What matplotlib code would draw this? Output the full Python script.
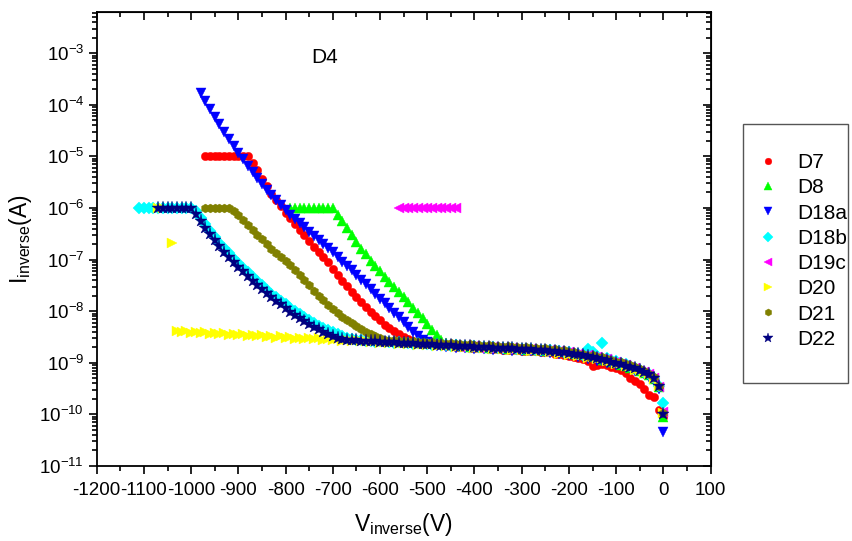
"""
Reverse I-V curves of the D4 diodes (log current vs reverse voltage).
"""

import numpy as np
import matplotlib
matplotlib.use("Agg")
import matplotlib.pyplot as plt
from matplotlib.ticker import MultipleLocator, LogLocator, NullFormatter
from matplotlib.patches import Rectangle

# Voltage sweeps (V), 10 V steps
v_d7 = np.arange(-970, 1, 10)
v_d8 = np.arange(-790, 1, 10)
v_d18a = np.arange(-980, 1, 10)
v_d18b = np.arange(-1110, 1, 10)
v_d19c = np.arange(-560, 1, 10)
v_d20 = np.concatenate([[-1070, -1060, -1040], np.arange(-1030, 1, 10)])
v_d21 = np.arange(-970, 1, 10)
v_d22 = np.arange(-1070, 1, 10)

# log10 of reverse current (A)
log_d7 = [
    -5.00, -5.00, -5.00, -5.00, -5.00, -5.00, -5.00, -5.00, -5.00, -5.00,
    -5.12, -5.27, -5.43, -5.58, -5.72, -5.84, -5.97, -6.09, -6.20, -6.31,
    -6.42, -6.53, -6.64, -6.75, -6.85, -6.95, -7.05, -7.18, -7.30, -7.41,
    -7.52, -7.62, -7.72, -7.82, -7.92, -8.01, -8.10, -8.18, -8.26, -8.33,
    -8.39, -8.45, -8.50, -8.54, -8.57, -8.60, -8.62, -8.64,
    -8.65, -8.66, -8.66, -8.68, -8.67, -8.69, -8.69, -8.70, -8.71, -8.71,
    -8.72, -8.72, -8.73, -8.74, -8.73, -8.75, -8.75, -8.76, -8.76, -8.77,
    -8.77, -8.78, -8.78, -8.79, -8.80, -8.80, -8.82, -8.83, -8.84, -8.86,
    -8.88, -8.90, -8.93, -8.97, -9.06, -9.05, -9.02, -9.04, -9.08, -9.10,
    -9.14, -9.20, -9.30, -9.36, -9.42, -9.50, -9.62, -9.66, -9.92, -10.05,
]
log_d8 = [
    -6.00, -6.00, -6.00, -6.00, -6.00, -6.00, -6.00, -6.00, -6.00, -6.00,
    -6.13, -6.26, -6.38, -6.52, -6.66, -6.79, -6.90, -7.02, -7.13, -7.22,
    -7.33, -7.44, -7.53, -7.63, -7.73, -7.83, -7.93, -8.03, -8.13, -8.24,
    -8.36, -8.47, -8.56, -8.61,
    -8.66, -8.64, -8.68, -8.66, -8.69, -8.68, -8.70, -8.69, -8.71, -8.70,
    -8.72, -8.70, -8.73, -8.72, -8.74, -8.72, -8.75, -8.74, -8.76, -8.75,
    -8.77, -8.75, -8.78, -8.77, -8.80, -8.79, -8.82, -8.81, -8.85, -8.84,
    -8.89, -8.89, -8.94, -8.94, -8.99, -9.00, -9.05, -9.06, -9.11, -9.12,
    -9.16, -9.19, -9.24, -9.31, -9.47, -10.05,
]
log_d18a = [
    -3.78, -3.93, -4.08, -4.23, -4.38, -4.52, -4.67, -4.80, -4.93, -5.06,
    -5.18, -5.30, -5.42, -5.54, -5.65, -5.75, -5.85, -5.95, -6.04, -6.13,
    -6.22, -6.29, -6.37, -6.46, -6.54, -6.62, -6.70, -6.78, -6.86, -6.95,
    -7.04, -7.12, -7.21, -7.30, -7.39, -7.48, -7.57, -7.66, -7.76, -7.85,
    -7.94, -8.03, -8.12, -8.20, -8.30, -8.40, -8.48, -8.55, -8.60,
    -8.66, -8.68, -8.67, -8.70, -8.68, -8.71, -8.70, -8.72, -8.71, -8.73,
    -8.72, -8.74, -8.73, -8.75, -8.73, -8.76, -8.74, -8.77, -8.75, -8.77,
    -8.76, -8.78, -8.77, -8.79, -8.79, -8.81, -8.81, -8.83, -8.83, -8.85,
    -8.85, -8.88, -8.88, -8.92, -8.92, -8.96, -8.96, -9.00, -9.00, -9.04,
    -9.05, -9.09, -9.11, -9.15, -9.18, -9.22, -9.27, -9.35, -9.50, -10.35,
]
log_d18b = [
    -6.00, -6.00, -6.00, -6.00, -6.00, -6.00, -6.00, -6.00, -6.00, -6.00,
    -6.00, -6.00,
    -6.06, -6.19, -6.32, -6.44, -6.56, -6.67, -6.78, -6.88, -6.98, -7.07,
    -7.16, -7.25, -7.34, -7.42, -7.50, -7.58, -7.66, -7.73, -7.80, -7.87,
    -7.94, -8.00, -8.06, -8.12, -8.18, -8.23, -8.28, -8.33, -8.37, -8.41,
    -8.45, -8.48, -8.51, -8.53,
    -8.55, -8.56, -8.58, -8.57, -8.59, -8.58, -8.60, -8.59, -8.61, -8.60,
    -8.62, -8.61, -8.63, -8.62, -8.64, -8.63, -8.65, -8.64, -8.66, -8.65,
    -8.67, -8.66, -8.68, -8.67, -8.69, -8.68, -8.70, -8.69, -8.71, -8.70,
    -8.71, -8.71, -8.72, -8.72, -8.73, -8.73, -8.74, -8.74, -8.75, -8.75,
    -8.76, -8.76, -8.77, -8.78, -8.79, -8.80, -8.82, -8.83, -8.84, -8.74,
    -8.80, -8.86, -8.62, -8.90, -8.95, -8.97, -9.00, -9.03, -9.06, -9.10,
    -9.13, -9.17, -9.22, -9.30, -9.45, -9.77,
]
log_d19c = [
    -6.00, -6.00, -6.00, -6.00, -6.00, -6.00, -6.00, -6.00, -6.00, -6.00,
    -6.00, -6.00, -6.00,
    -8.69, -8.67, -8.70, -8.68, -8.71, -8.69, -8.72, -8.70, -8.72, -8.71,
    -8.73, -8.72, -8.74, -8.73, -8.75, -8.74, -8.76, -8.75, -8.77, -8.76,
    -8.79, -8.78, -8.81, -8.80, -8.83, -8.82, -8.86, -8.85, -8.89, -8.88,
    -8.93, -8.93, -8.98, -8.98, -9.03, -9.04, -9.09, -9.10, -9.15, -9.17,
    -9.22, -9.30, -9.46, -9.95,
]
log_d20 = [
    -6.00, -6.00, -6.68,
    -8.38, -8.41, -8.39, -8.42, -8.40, -8.43, -8.41, -8.44, -8.42, -8.45,
    -8.43, -8.46, -8.44, -8.47, -8.45, -8.48, -8.46, -8.49, -8.47, -8.50,
    -8.48, -8.51, -8.49, -8.52, -8.50, -8.53, -8.51, -8.54, -8.52, -8.54,
    -8.52, -8.55, -8.53, -8.56, -8.54, -8.57, -8.55, -8.58, -8.56, -8.58,
    -8.57, -8.60, -8.58, -8.61, -8.59, -8.62, -8.60, -8.63, -8.61, -8.64,
    -8.62, -8.65, -8.63, -8.66, -8.64, -8.67, -8.65, -8.68, -8.66, -8.69,
    -8.67, -8.70, -8.68, -8.71, -8.69, -8.72, -8.70, -8.73, -8.70, -8.74,
    -8.71, -8.75, -8.72, -8.76, -8.73, -8.77, -8.74, -8.78, -8.76, -8.80,
    -8.78, -8.82, -8.80, -8.84, -8.82, -8.87, -8.85, -8.90, -8.88, -8.93,
    -8.91, -8.97, -8.96, -9.02, -9.01, -9.07, -9.07, -9.13, -9.13, -9.20,
    -9.21, -9.32, -9.44, -9.98,
]
log_d21 = [
    -6.00, -6.00, -6.00, -6.00, -6.00, -6.00,
    -6.06, -6.14, -6.23, -6.33, -6.43, -6.52, -6.61, -6.70, -6.79, -6.87,
    -6.95, -7.03, -7.11, -7.20, -7.30, -7.40, -7.50, -7.60, -7.70, -7.79,
    -7.88, -7.96, -8.04, -8.11, -8.17, -8.23, -8.29, -8.35, -8.40, -8.45,
    -8.49, -8.52,
    -8.55, -8.57, -8.56, -8.58, -8.57, -8.59, -8.58, -8.60, -8.59, -8.61,
    -8.60, -8.62, -8.61, -8.63, -8.62, -8.64, -8.63, -8.65, -8.64, -8.66,
    -8.65, -8.67, -8.66, -8.68, -8.67, -8.69, -8.68, -8.70, -8.69, -8.71,
    -8.70, -8.72, -8.71, -8.73, -8.72, -8.75, -8.74, -8.77, -8.76, -8.80,
    -8.79, -8.83, -8.82, -8.86, -8.85, -8.89, -8.89, -8.93, -8.94, -8.98,
    -8.99, -9.03, -9.05, -9.09, -9.12, -9.16, -9.21, -9.28, -9.44, -9.98,
]
log_d22 = [
    -6.00, -6.00, -6.00, -6.00, -6.00, -6.00, -6.00, -6.00,
    -6.12, -6.26, -6.39, -6.51, -6.63, -6.74, -6.85, -6.95, -7.05, -7.14,
    -7.23, -7.32, -7.41, -7.49, -7.57, -7.65, -7.73, -7.80, -7.87, -7.94,
    -8.01, -8.07, -8.13, -8.19, -8.25, -8.30, -8.35, -8.40, -8.44, -8.48,
    -8.51, -8.53,
    -8.55, -8.56, -8.56, -8.57, -8.57, -8.58, -8.58, -8.59, -8.59, -8.60,
    -8.60, -8.61, -8.61, -8.62, -8.62, -8.63, -8.63, -8.64, -8.64, -8.65,
    -8.65, -8.66, -8.66, -8.67, -8.67, -8.68, -8.68, -8.69, -8.69, -8.70,
    -8.70, -8.71, -8.71, -8.72, -8.72, -8.72, -8.73, -8.73, -8.74, -8.74,
    -8.75, -8.75, -8.76, -8.77, -8.78, -8.79, -8.80, -8.81, -8.82, -8.83,
    -8.84, -8.86, -8.88, -8.90, -8.92, -8.95, -8.98, -9.00, -9.03, -9.06,
    -9.08, -9.11, -9.14, -9.18, -9.22, -9.30, -9.45, -10.00,
]

labels = ["D7", "D8", "D18a", "D18b", "D19c", "D20", "D21", "D22"]
volts = [v_d7, v_d8, v_d18a, v_d18b, v_d19c, v_d20, v_d21, v_d22]
logs = [log_d7, log_d8, log_d18a, log_d18b, log_d19c, log_d20, log_d21, log_d22]

colors = ["#FF0000", "#00FF00", "#0000FF", "#00FFFF", "#FF00FF", "#FFFF00", "#808000", "#000080"]
markers = ["o", "^", "v", "D", "<", ">", "h", "*"]
sizes = [6.0, 7.5, 7.5, 5.8, 7.5, 7.5, 6.4, 9.5]

plt.rcParams["font.family"] = "Liberation Sans"
plt.rcParams["mathtext.fontset"] = "custom"
plt.rcParams["mathtext.rm"] = "Liberation Sans"
plt.rcParams["mathtext.it"] = "Liberation Sans:italic"
plt.rcParams["mathtext.default"] = "regular"
plt.rcParams["axes.unicode_minus"] = False

fig = plt.figure(figsize=(8.53, 5.41), dpi=100)
ax = fig.add_axes([0.1134, 0.1386, 0.7196, 0.8394])

for label, v, lg, c, m, s in zip(labels, volts, logs, colors, markers, sizes):
    ax.plot(v, 10 ** np.array(lg), linestyle="none", marker=m, markersize=s,
            color=c, markeredgecolor=c, markeredgewidth=0.3, label=label)

ax.set_xlim(-1200, 100)
ax.set_yscale("log")
ax.set_ylim(1e-11, 6.3e-3)

ax.xaxis.set_major_locator(MultipleLocator(100))
ax.xaxis.set_minor_locator(MultipleLocator(50))
ax.yaxis.set_major_locator(LogLocator(base=10, numticks=30))
ax.yaxis.set_minor_locator(LogLocator(base=10, subs=np.arange(2, 10), numticks=30))
ax.yaxis.set_minor_formatter(NullFormatter())

for sp in ax.spines.values():
    sp.set_linewidth(1.3)
ax.tick_params(which="both", direction="out", labelsize=13.5, width=1.2)
ax.tick_params(which="major", length=5.5)
ax.tick_params(which="minor", length=3.5)
ax.tick_params(axis="x", which="major", pad=6)

# mirrored ticks pointing inwards on top and right
secx = ax.secondary_xaxis("top")
secx.xaxis.set_major_locator(MultipleLocator(100))
secx.xaxis.set_minor_locator(MultipleLocator(50))
secx.xaxis.set_major_formatter(NullFormatter())
secx.tick_params(which="both", direction="in", width=1.2)
secx.tick_params(which="major", length=6)
secx.tick_params(which="minor", length=3.5)

secy = ax.secondary_yaxis("right")
secy.yaxis.set_major_locator(LogLocator(base=10, numticks=30))
secy.yaxis.set_minor_locator(LogLocator(base=10, subs=np.arange(2, 10), numticks=30))
secy.yaxis.set_major_formatter(NullFormatter())
secy.yaxis.set_minor_formatter(NullFormatter())
secy.tick_params(which="both", direction="in", width=1.2)
secy.tick_params(which="major", length=6)
secy.tick_params(which="minor", length=3.5)

ax.set_xlabel(r"V$_{inverse}$(V)", fontsize=16.5, labelpad=9)
ax.set_ylabel(r"I$_{inverse}$(A)", fontsize=16.5, labelpad=4)

ax.text(0.372, 0.90, "D4", transform=ax.transAxes, ha="center", va="center", fontsize=15)

# legend box sits outside the axes, on the right
fig.add_artist(Rectangle((0.871, 0.292), 0.123, 0.479, transform=fig.transFigure,
                         fill=False, edgecolor="#555555", linewidth=1.0))
handles, labs = ax.get_legend_handles_labels()
fig.legend(handles, labs, loc="upper left", bbox_to_anchor=(0.888, 0.717),
           frameon=False, fontsize=15, labelspacing=0.3, handlelength=1.0,
           handletextpad=0.9, borderpad=0, borderaxespad=0, markerscale=0.8)

fig.savefig("out.png", dpi=100)
